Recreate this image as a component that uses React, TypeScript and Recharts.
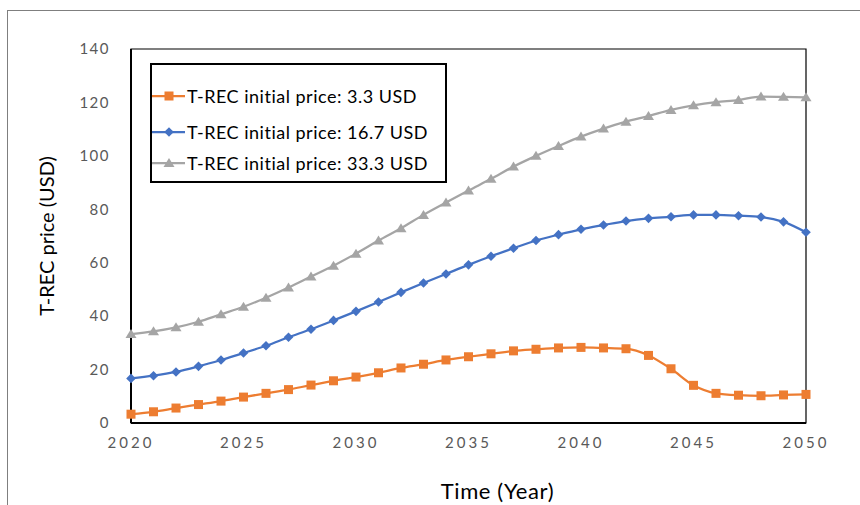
import React from 'react';
import { LineChart, Line, XAxis, YAxis, Legend, ReferenceArea, Label } from 'recharts';

const years = [
  2020, 2021, 2022, 2023, 2024, 2025, 2026, 2027, 2028, 2029, 2030,
  2031, 2032, 2033, 2034, 2035, 2036, 2037, 2038, 2039, 2040,
  2041, 2042, 2043, 2044, 2045, 2046, 2047, 2048, 2049, 2050,
];

const priceLow = [
  3.3, 4.2, 5.6, 6.9, 8.2, 9.7, 11.1, 12.5, 14.2, 15.8, 17.2,
  18.8, 20.6, 22.0, 23.6, 24.8, 25.9, 27.0, 27.6, 28.1, 28.3,
  28.1, 27.8, 25.3, 20.3, 14.1, 11.1, 10.4, 10.2, 10.5, 10.7,
];

const priceMid = [
  16.7, 17.7, 19.1, 21.2, 23.6, 26.2, 28.9, 32.1, 35.1, 38.4, 41.8,
  45.3, 48.9, 52.4, 55.8, 59.2, 62.4, 65.4, 68.3, 70.5, 72.5,
  74.1, 75.6, 76.6, 77.2, 77.9, 77.9, 77.6, 77.1, 75.3, 71.4,
];

const priceHigh = [
  33.3, 34.3, 35.8, 37.9, 40.7, 43.5, 46.9, 50.7, 54.8, 58.9, 63.4,
  68.3, 72.9, 77.9, 82.5, 87.0, 91.4, 96.0, 100.0, 103.7, 107.2,
  110.2, 112.8, 114.9, 117.2, 118.9, 120.1, 120.9, 122.2, 122.1, 121.9,
];

const xTicks = [2020, 2025, 2030, 2035, 2040, 2045, 2050];
const yTicks = [0, 20, 40, 60, 80, 100, 120, 140];

const seriesNames = [
  'T-REC initial price: 3.3 USD',
  'T-REC initial price: 16.7 USD',
  'T-REC initial price: 33.3 USD',
];

const data = years.map((year, i) => ({
  year,
  low: priceLow[i],
  mid: priceMid[i],
  high: priceHigh[i],
}));

const ORANGE = '#ED7D31';
const BLUE = '#4472C4';
const GRAY = '#A5A5A5';
const FONT = 'Lato, "Open Sans", sans-serif';

type Shape = 'square' | 'diamond' | 'triangle';

function marker(shape: Shape, cx: number, cy: number, color: string, key?: string) {
  if (shape === 'square') {
    return <rect key={key} x={cx - 4.5} y={cy - 4.5} width={9} height={9} fill={color} />;
  }
  if (shape === 'diamond') {
    const r = 4.8;
    return (
      <polygon
        key={key}
        points={`${cx},${cy - r} ${cx + r},${cy} ${cx},${cy + r} ${cx - r},${cy}`}
        fill={color}
      />
    );
  }
  return (
    <polygon
      key={key}
      points={`${cx},${cy - 5} ${cx + 5.5},${cy + 4} ${cx - 5.5},${cy + 4}`}
      fill={color}
    />
  );
}

const makeDot = (shape: Shape, color: string) => (props: any) => {
  const { cx, cy, index } = props;
  if (cx == null || cy == null) return <g key={`e-${index}`} />;
  return marker(shape, cx, cy, color, `${shape}-${index}`);
};

// legend rows, with their vertical centre inside the box
const legendItems: { name: string; color: string; shape: Shape; top: number }[] = [
  { name: seriesNames[0], color: ORANGE, shape: 'square', top: 15 },
  { name: seriesNames[1], color: BLUE, shape: 'diamond', top: 51 },
  { name: seriesNames[2], color: GRAY, shape: 'triangle', top: 82 },
];

function LegendBox() {
  return (
    <div
      style={{
        position: 'relative',
        width: 293,
        height: 116,
        border: '2px solid #000',
        background: '#fff',
        fontFamily: FONT,
      }}
    >
      {legendItems.map((item) => (
        <div
          key={item.name}
          style={{
            position: 'absolute',
            left: 0,
            top: item.top,
            display: 'flex',
            alignItems: 'center',
            height: 32,
          }}
        >
          <svg width={34} height={14}>
            <line x1={0} y1={7} x2={33} y2={7} stroke={item.color} strokeWidth={2.25} />
            {marker(item.shape, 17, 7, item.color)}
          </svg>
          <span
            style={{
              fontSize: 18,
              letterSpacing: 0.5,
              color: '#000',
              whiteSpace: 'nowrap',
              marginLeft: 1,
            }}
          >
            {item.name}
          </span>
        </div>
      ))}
    </div>
  );
}

export default function App() {
  return (
    <div
      style={{
        position: 'absolute',
        left: 0,
        top: 0,
        width: 860,
        height: 505,
        overflow: 'hidden',
        background: '#fff',
      }}
    >
      <div
        style={{
          position: 'absolute',
          left: 7,
          top: 10,
          width: 900,
          height: 600,
          borderTop: '1.5px solid #7F7F7F',
          borderLeft: '1.5px solid #7F7F7F',
        }}
      />
      <LineChart
        width={860}
        height={505}
        data={data}
        margin={{ top: 49, right: 54, bottom: 0, left: 0 }}
        style={{ fontFamily: FONT }}
      >
        <ReferenceArea
          x1={2020}
          x2={2050}
          y1={0}
          y2={140}
          fill="none"
          stroke="#000"
          strokeWidth={1.2}
          ifOverflow="visible"
        />
        <XAxis
          dataKey="year"
          type="number"
          domain={[2020, 2050]}
          ticks={xTicks}
          height={82}
          tickSize={0}
          tickMargin={14}
          axisLine={{ stroke: '#000', strokeWidth: 2 }}
          tickLine={false}
          tick={{ fill: '#595959', fontSize: 15, letterSpacing: 3, fontFamily: FONT }}
        >
          <Label
            value="Time (Year)"
            position="insideBottom"
            offset={6}
            dx={29}
            style={{ fontSize: 22, letterSpacing: 0.6, fill: '#000', fontFamily: FONT }}
          />
        </XAxis>
        <YAxis
          type="number"
          domain={[0, 140]}
          ticks={yTicks}
          width={131}
          tickSize={0}
          tickMargin={21}
          axisLine={{ stroke: '#000', strokeWidth: 2 }}
          tickLine={false}
          tick={{ fill: '#595959', fontSize: 15, letterSpacing: 1.5, fontFamily: FONT }}
        >
          <Label
            value="T-REC price (USD)"
            angle={-90}
            position="insideLeft"
            offset={47}
            style={{ fontSize: 20, fill: '#000', textAnchor: 'middle', fontFamily: FONT }}
          />
        </YAxis>
        <Legend
          layout="vertical"
          align="center"
          verticalAlign="middle"
          content={() => <LegendBox />}
          wrapperStyle={{ left: 150, top: 63, width: 297, height: 120 }}
        />
        <Line
          type="monotone"
          dataKey="low"
          name={seriesNames[0]}
          stroke={ORANGE}
          strokeWidth={2.25}
          dot={makeDot('square', ORANGE)}
          activeDot={false}
          isAnimationActive={false}
        />
        <Line
          type="monotone"
          dataKey="mid"
          name={seriesNames[1]}
          stroke={BLUE}
          strokeWidth={2.25}
          dot={makeDot('diamond', BLUE)}
          activeDot={false}
          isAnimationActive={false}
        />
        <Line
          type="monotone"
          dataKey="high"
          name={seriesNames[2]}
          stroke={GRAY}
          strokeWidth={2.25}
          dot={makeDot('triangle', GRAY)}
          activeDot={false}
          isAnimationActive={false}
        />
      </LineChart>
    </div>
  );
}
